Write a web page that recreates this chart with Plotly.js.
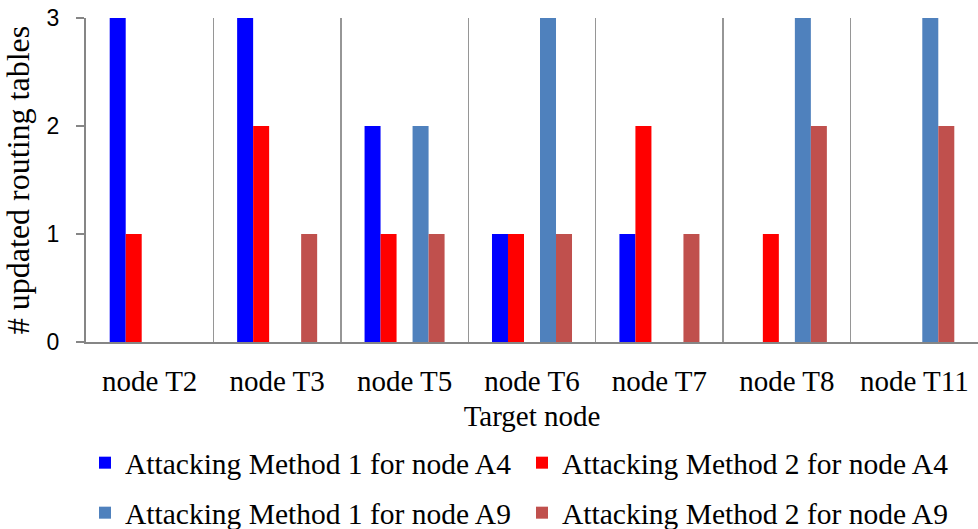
<!DOCTYPE html>
<html>
<head>
<meta charset="utf-8">
<script src="https://cdn.plot.ly/plotly-3.0.1.min.js"></script>
<style>
html, body { margin: 0; padding: 0; background: #fff; }
#chart { width: 978px; height: 529px; }
</style>
</head>
<body>
<div id="chart"></div>
<script>
const categories = ["node T2", "node T3", "node T5", "node T6", "node T7", "node T8", "node T11"];
const m1A4 = [3, 3, 2, 1, 1, 0, 0];
const m2A4 = [1, 2, 1, 1, 2, 1, 0];
const m1A9 = [0, 0, 2, 3, 0, 3, 3];
const m2A9 = [0, 1, 1, 1, 1, 2, 2];
const seriesNames = [
  "Attacking Method 1 for node A4",
  "Attacking Method 2 for node A4",
  "Attacking Method 1 for node A9",
  "Attacking Method 2 for node A9"
];
const colors = ["#0000FF", "#FF0000", "#4F81BD", "#C0504D"];

const serif = "Liberation Serif, Times New Roman, serif";
const sans = "Liberation Sans, Arial, sans-serif";

const traces = [
  {type: "bar", x: categories, y: m1A4, name: seriesNames[0], marker: {color: colors[0]}, legend: "legend"},
  {type: "bar", x: categories, y: m2A4, name: seriesNames[1], marker: {color: colors[1]}, legend: "legend"},
  {type: "bar", x: categories, y: categories.map(() => null), name: "", showlegend: false, hoverinfo: "skip"},
  {type: "bar", x: categories, y: m1A9, name: seriesNames[2], marker: {color: colors[2]}, legend: "legend2"},
  {type: "bar", x: categories, y: m2A9, name: seriesNames[3], marker: {color: colors[3]}, legend: "legend2"}
];

const legendCommon = {
  orientation: "h",
  xref: "container", yref: "container",
  x: 85 / 978, xanchor: "left",
  yanchor: "middle",
  font: {family: serif, size: 29.5, color: "#000"},
  entrywidth: 392,
  bgcolor: "rgba(0,0,0,0)",
  traceorder: "normal"
};

const layout = {
  width: 978, height: 529,
  margin: {l: 86, r: 0, t: 18, b: 187, pad: 0},
  paper_bgcolor: "#fff", plot_bgcolor: "#fff",
  barmode: "group",
  bargap: 0.372,
  bargroupgap: 0,
  showlegend: true,
  legend: Object.assign({}, legendCommon, {y: 1 - 463 / 529}),
  legend2: Object.assign({}, legendCommon, {y: 1 - 513 / 529}),
  xaxis: {
    type: "category",
    tickson: "boundaries",
    showgrid: true, gridcolor: "#969696", gridwidth: 1.5,
    showline: true, linecolor: "#868686", linewidth: 2,
    ticks: "",
    tickfont: {family: serif, size: 29, color: "#000"},
    ticklabelstandoff: 12,
    title: {text: "Target node", font: {family: serif, size: 29, color: "#000"}, standoff: 10},
    fixedrange: true
  },
  yaxis: {
    range: [0, 3],
    tickvals: [0, 1, 2, 3],
    showgrid: false, zeroline: false,
    showline: true, linecolor: "#868686", linewidth: 2,
    ticks: "outside", ticklen: 8, tickcolor: "#868686", tickwidth: 2,
    tickfont: {family: sans, size: 23, color: "#000"},
    ticklabelstandoff: 12,
    title: {text: "# updated routing tables", font: {family: serif, size: 32, color: "#000"}, standoff: 8},
    fixedrange: true
  }
};

Plotly.newPlot("chart", traces, layout, {displayModeBar: false, staticPlot: true});
</script>
</body>
</html>
